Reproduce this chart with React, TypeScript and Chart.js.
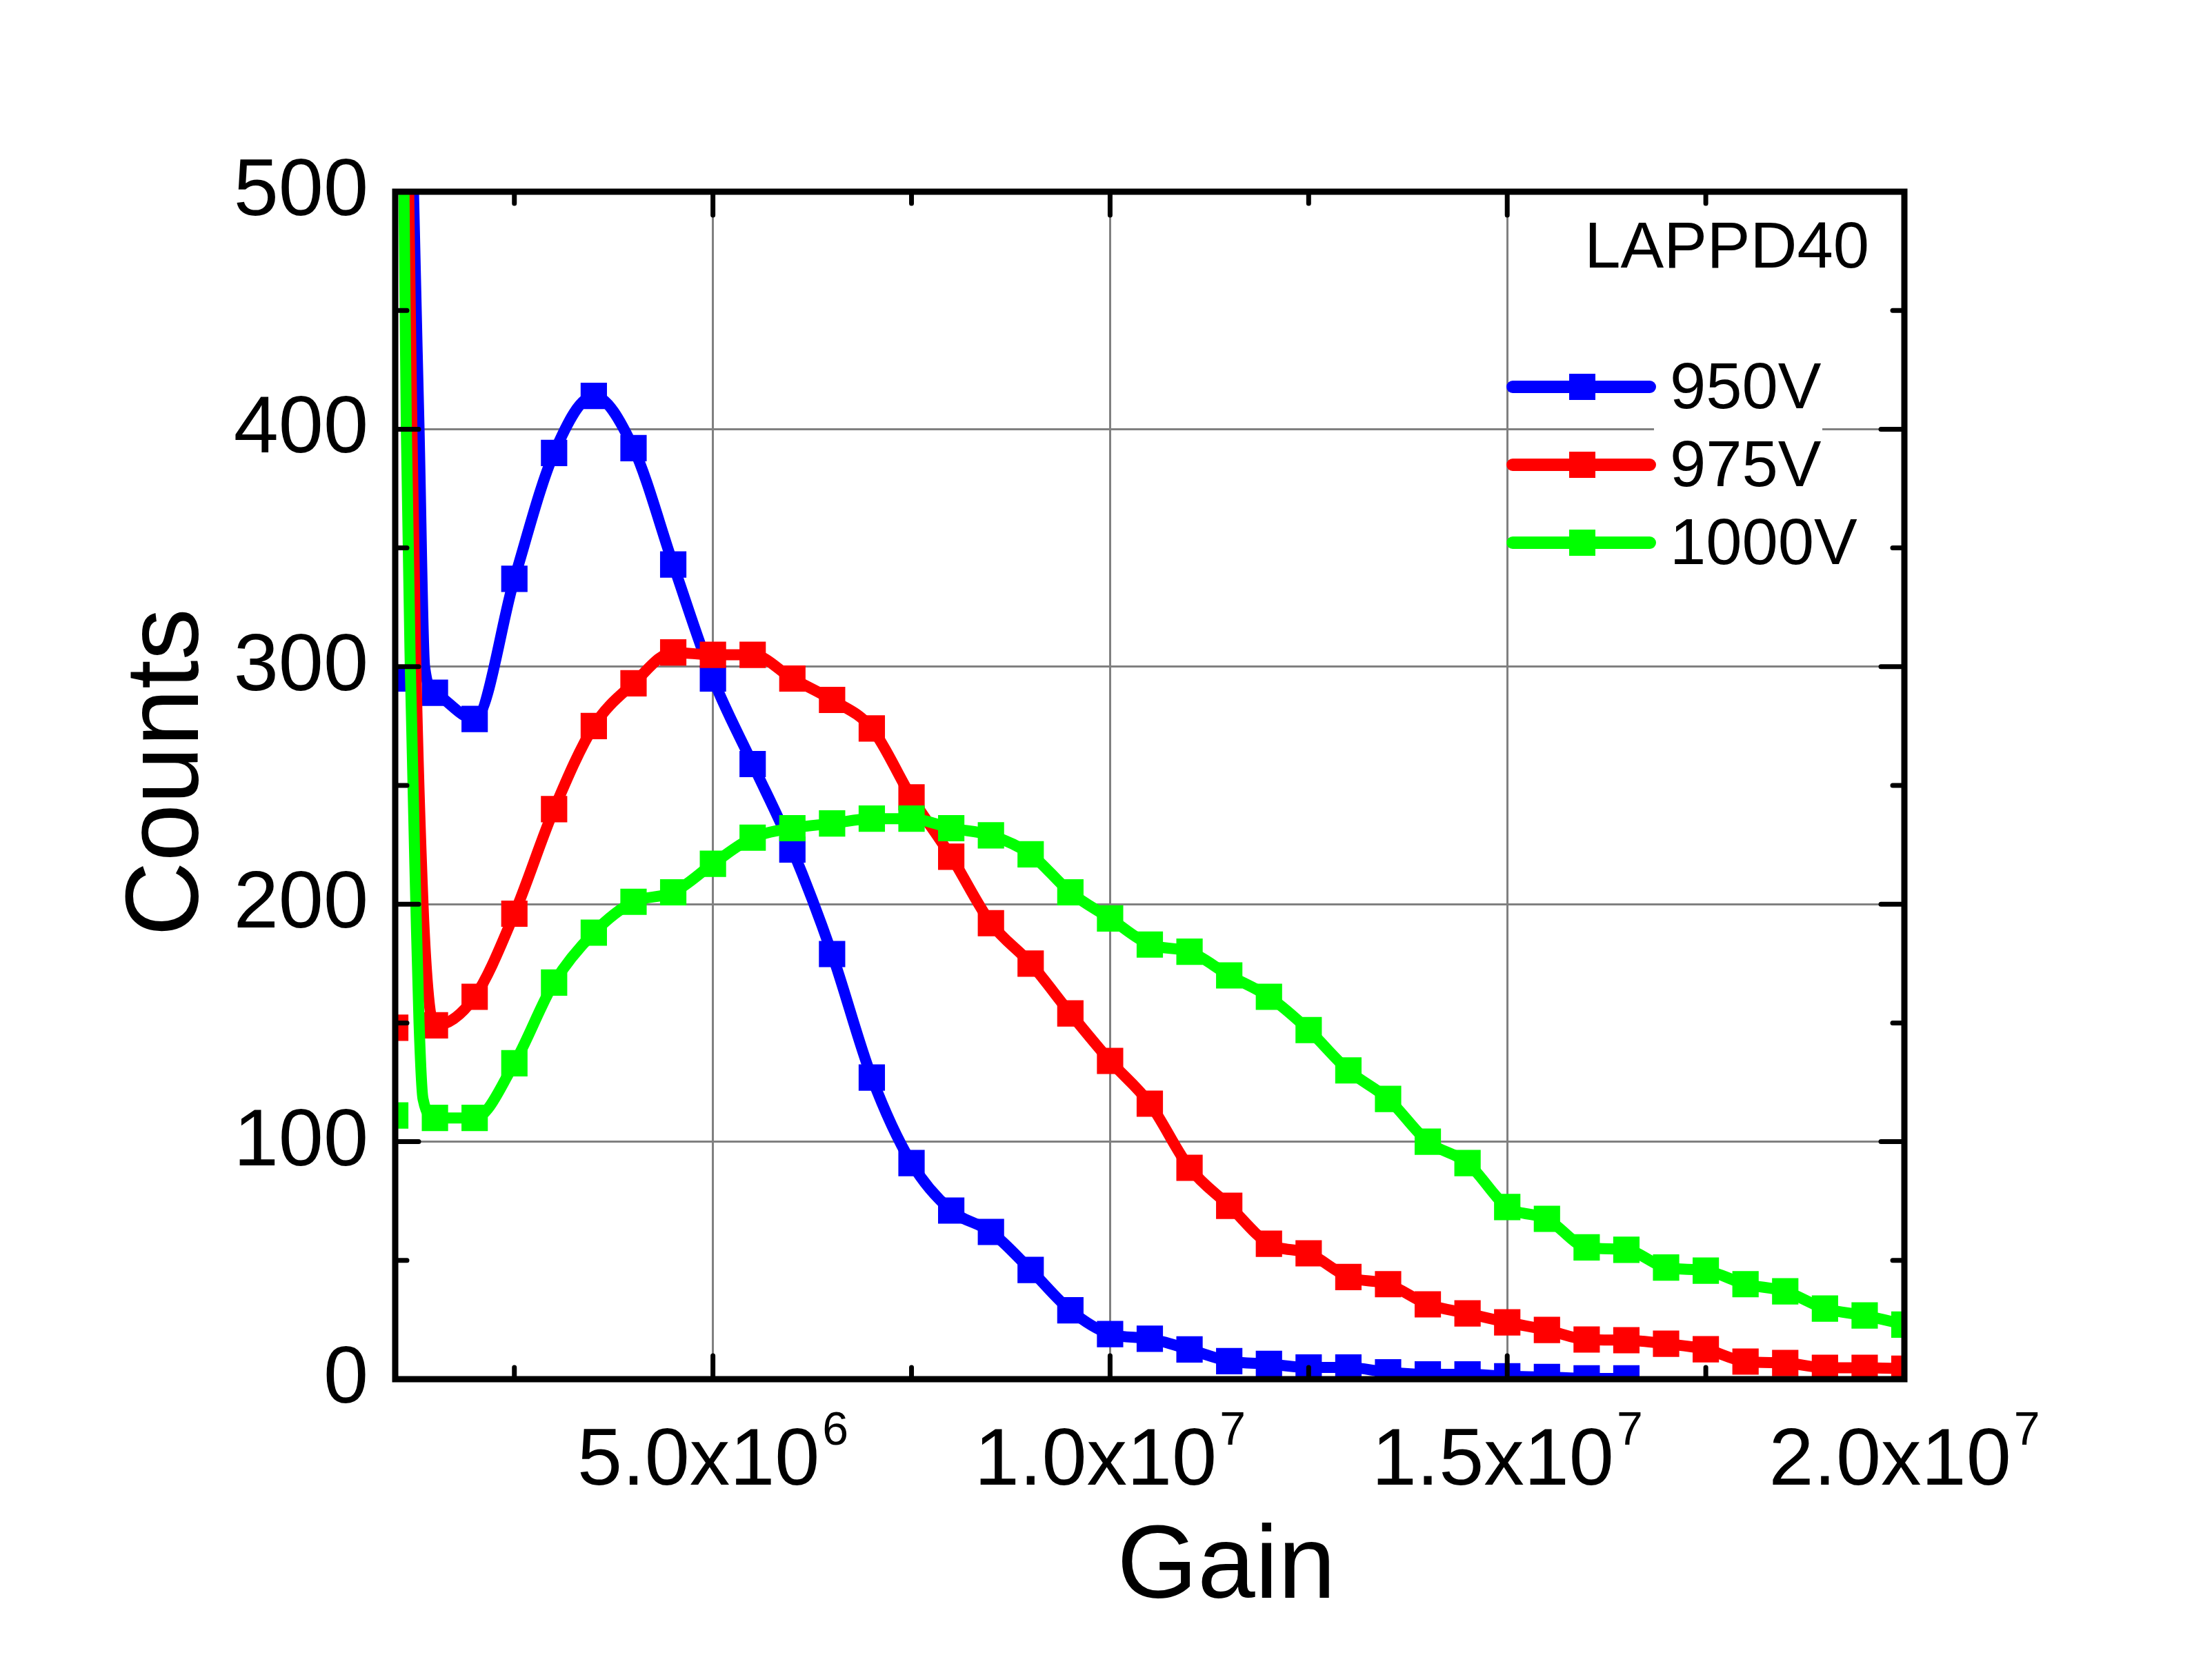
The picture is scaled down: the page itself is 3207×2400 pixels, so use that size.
import React, { useEffect, useRef } from 'react';
import Chart from 'chart.js/auto';

// measured gain values (one marker every 0.5x10^6)
const gain = [
  1.0e6, 1.5e6, 2.0e6, 2.5e6, 3.0e6, 3.5e6, 4.0e6, 4.5e6, 5.0e6, 5.5e6,
  6.0e6, 6.5e6, 7.0e6, 7.5e6, 8.0e6, 8.5e6, 9.0e6, 9.5e6, 1.0e7, 1.05e7,
  1.1e7, 1.15e7, 1.2e7, 1.25e7, 1.3e7, 1.35e7, 1.4e7, 1.45e7, 1.5e7, 1.55e7,
  1.6e7, 1.65e7, 1.7e7, 1.75e7, 1.8e7, 1.85e7, 1.9e7, 1.95e7, 2.0e7,
];

const counts950 = [
  295, 289, 278, 337, 390, 414, 392, 343, 295, 259,
  223, 179, 127, 91, 71, 62, 46, 29, 19, 17,
  12.5, 7.6, 6.4, 4.9, 4.9, 2.9, 2.0, 2.0, 1.2, 0.9,
  0.3, 0.3,
];
const counts975 = [
  148, 149, 161, 196, 240, 275, 293, 306, 305, 305,
  295, 286, 274, 245, 220, 192, 175, 154, 134, 116,
  89, 73, 57, 53, 43, 40, 31.5, 27.7, 23.9, 20.7,
  16.7, 16.4, 14.9, 12.6, 7.4, 6.8, 4.8, 4.8, 4.4,
];
const counts1000 = [
  111, 110, 110, 133, 167, 188, 201, 205, 217, 228,
  232, 234, 236, 236, 232, 229, 221, 205, 194, 183,
  180, 170, 161, 147, 130, 118, 100, 91, 72.5, 67.5,
  55.5, 54.5, 47, 45.7, 40, 37, 29.7, 26.8, 23,
];

// pedestal rise of each curve near the left edge (no markers)
const spikeGain950 = [1.12e6, 1.23e6, 1.3e6, 1.37e6];
const spikeCounts950 = [700, 500, 400, 300];
const spikeGain975 = [1.08e6, 1.17e6, 1.21e6, 1.26e6, 1.35e6, 1.42e6];
const spikeCounts975 = [700, 500, 400, 300, 200, 161];
const spikeGain1000 = [1.03e6, 1.11e6, 1.14e6, 1.19e6, 1.26e6, 1.3e6, 1.35e6];
const spikeCounts1000 = [700, 500, 400, 300, 200, 150, 118];

const seriesLabels = ['950V', '975V', '1000V'];
const seriesColors = ['#0000ff', '#ff0000', '#00ff00'];

const gainTicks = [5e6, 1e7, 1.5e7, 2e7];
const gainMinorTicks = [2.5e6, 7.5e6, 1.25e7, 1.75e7];
const countTicks = [0, 100, 200, 300, 400, 500];
const countMinorTicks = [50, 150, 250, 350, 450];

const FONT = "'Liberation Sans', Arial, Helvetica, sans-serif";

const toPoints = (xs: number[], ys: number[]) => ys.map((y, i) => ({ x: xs[i], y }));

const framePlugin = {
  id: 'originFrame',
  afterDraw(chart: any) {
    const { ctx, chartArea } = chart;
    const { left, right, top, bottom } = chartArea;
    const xs = chart.scales.x;
    const ys = chart.scales.y;
    ctx.save();

    // white box behind legend labels (hides the grid line)
    ctx.fillStyle = '#ffffff';
    ctx.fillRect(2398, 515, 244, 330);

    // frame
    ctx.strokeStyle = '#000';
    ctx.lineWidth = 9;
    ctx.lineJoin = 'miter';
    ctx.strokeRect(left, top, right - left, bottom - top);

    // inward ticks on all four sides
    ctx.lineWidth = 7;
    ctx.lineCap = 'round';
    const tick = (x1: number, y1: number, x2: number, y2: number) => {
      ctx.beginPath();
      ctx.moveTo(x1, y1);
      ctx.lineTo(x2, y2);
      ctx.stroke();
    };
    gainTicks.concat(gainMinorTicks).forEach((v) => {
      if (v >= xs.max) return;
      const len = gainTicks.includes(v) ? 34 : 17;
      const px = xs.getPixelForValue(v);
      tick(px, bottom, px, bottom - len);
      tick(px, top, px, top + len);
    });
    countTicks.concat(countMinorTicks).forEach((v) => {
      if (v <= ys.min || v >= ys.max) return;
      const len = countTicks.includes(v) ? 34 : 17;
      const py = ys.getPixelForValue(v);
      tick(left, py, left + len, py);
      tick(right, py, right - len, py);
    });

    ctx.fillStyle = '#000';
    ctx.textBaseline = 'alphabetic';

    // y tick labels
    ctx.font = `117px ${FONT}`;
    ctx.textAlign = 'right';
    countTicks.forEach((v) => {
      ctx.fillText(String(v), left - 39, ys.getPixelForValue(v) + 34);
    });

    // x tick labels, a.bx10^n
    gainTicks.forEach((v) => {
      const exp = Math.floor(Math.log10(v));
      const main = (v / Math.pow(10, exp)).toFixed(1) + 'x10';
      const sup = String(exp);
      ctx.font = `117px ${FONT}`;
      const wMain = ctx.measureText(main).width;
      ctx.font = `68px ${FONT}`;
      const wSup = ctx.measureText(sup).width;
      const start = xs.getPixelForValue(v) - (wMain + wSup + 4) / 2;
      ctx.textAlign = 'left';
      ctx.font = `117px ${FONT}`;
      ctx.fillText(main, start, bottom + 153);
      ctx.font = `68px ${FONT}`;
      ctx.fillText(sup, start + wMain + 4, bottom + 95);
    });

    // axis titles
    ctx.font = `150px ${FONT}`;
    ctx.textAlign = 'center';
    ctx.fillText('Gain', 1778, 2317);
    ctx.save();
    ctx.translate(287, 1120);
    ctx.rotate(-Math.PI / 2);
    ctx.fillText('Counts', 0, 0);
    ctx.restore();

    // label and legend
    ctx.font = `94px ${FONT}`;
    ctx.textAlign = 'right';
    ctx.fillText('LAPPD40', 2710, 388);
    ctx.textAlign = 'left';
    seriesLabels.forEach((label, i) => {
      const y = 561 + i * 113;
      ctx.strokeStyle = seriesColors[i];
      ctx.lineWidth = 18;
      ctx.lineCap = 'round';
      ctx.beginPath();
      ctx.moveTo(2193, y);
      ctx.lineTo(2392, y);
      ctx.stroke();
      ctx.fillStyle = seriesColors[i];
      ctx.fillRect(2275, y - 19, 38, 38);
      ctx.fillStyle = '#000';
      ctx.fillText(label, 2421, y + 31);
    });

    ctx.restore();
  },
};

const App: React.FC = () => {
  const chartRef = useRef<HTMLCanvasElement | null>(null);

  // @ts-ignore
  useEffect(() => {
    document.body.style.margin = '0';

    const series = [
      { counts: counts950, spikeX: spikeGain950, spikeY: spikeCounts950 },
      { counts: counts975, spikeX: spikeGain975, spikeY: spikeCounts975 },
      { counts: counts1000, spikeX: spikeGain1000, spikeY: spikeCounts1000 },
    ];

    const datasets: any[] = [];
    series.forEach((s, i) => {
      const color = seriesColors[i];
      const markers = toPoints(gain, s.counts);
      datasets.push({
        label: seriesLabels[i] + ' line',
        data: toPoints(s.spikeX, s.spikeY).concat(markers.slice(1)),
        showLine: true,
        borderColor: color,
        borderWidth: 16,
        cubicInterpolationMode: 'monotone',
        pointRadius: 0,
        clip: 0,
        order: 5 - i * 2,
      });
      datasets.push({
        label: seriesLabels[i],
        data: markers,
        showLine: false,
        pointStyle: 'rect',
        pointRadius: 27,
        pointBorderWidth: 0,
        pointBackgroundColor: color,
        pointBorderColor: color,
        clip: 0,
        order: 4 - i * 2,
      });
    });

    if (chartRef.current) {
      const ctx = chartRef.current.getContext('2d');
      if (ctx) {
        const chartInstance = new Chart(ctx, {
          type: 'scatter',
          data: { datasets },
          options: {
            animation: false,
            responsive: false,
            events: [],
            layout: { padding: { left: 573, right: 446, top: 278, bottom: 400 } },
            plugins: { legend: { display: false }, tooltip: { enabled: false } },
            scales: {
              x: {
                type: 'linear',
                min: 1e6,
                max: 2e7,
                afterBuildTicks: (scale: any) => {
                  scale.ticks = gainTicks.slice(0, 3).map((value) => ({ value }));
                },
                ticks: { display: false },
                border: { display: false },
                grid: { color: '#808080', lineWidth: 3, drawTicks: false },
              },
              y: {
                min: 0,
                max: 500,
                afterBuildTicks: (scale: any) => {
                  scale.ticks = countTicks.slice(1, 5).map((value) => ({ value }));
                },
                ticks: { display: false },
                border: { display: false },
                grid: { color: '#808080', lineWidth: 3, drawTicks: false },
              },
            },
          } as any,
          plugins: [framePlugin],
        });
        return () => {
          chartInstance.destroy();
        };
      }
    }
  }, []);

  return (
    <div style={{ width: '3207px', height: '2400px', background: '#fff' }}>
      <canvas ref={chartRef} width={3207} height={2400} style={{ width: '3207px', height: '2400px' }} />
    </div>
  );
};

export default App;
